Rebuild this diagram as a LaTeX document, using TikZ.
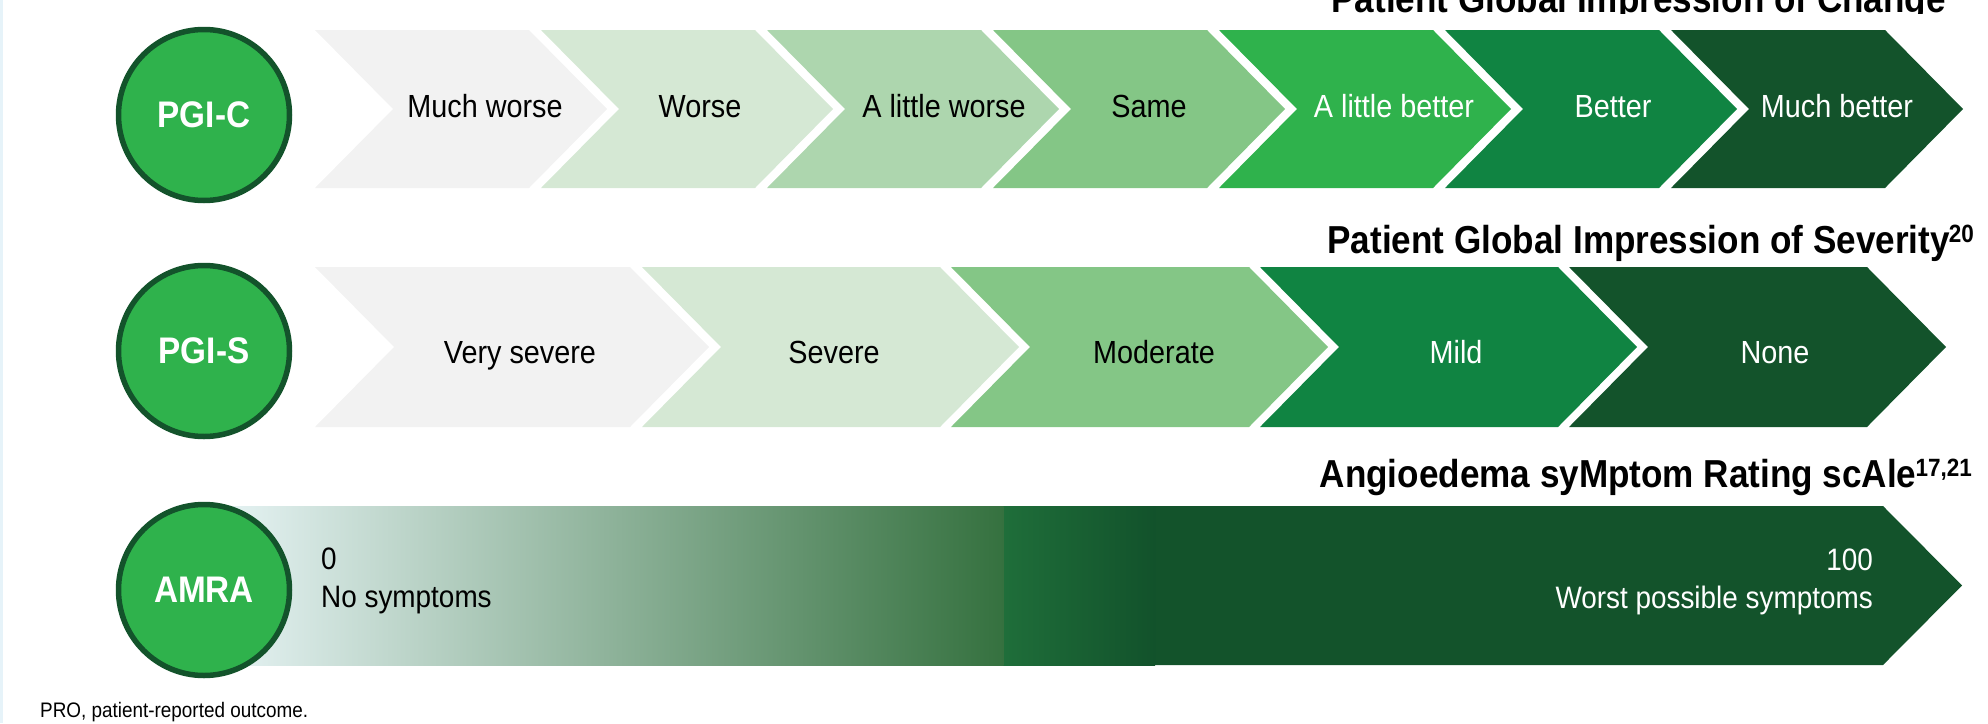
\documentclass[tikz,border=0pt]{standalone}
\usepackage{fontspec}
\setmainfont{Liberation Sans}[FakeStretch=0.9]
\definecolor{c1}{HTML}{F2F2F2}
\definecolor{c2}{HTML}{D5E8D4}
\definecolor{c3}{HTML}{ADD6AE}
\definecolor{c4}{HTML}{84C686}
\definecolor{c5}{HTML}{2FB24C}
\definecolor{c6}{HTML}{108442}
\definecolor{c7}{HTML}{13532B}
\definecolor{edgeblue}{HTML}{E6F3F9}
\definecolor{gA}{HTML}{EAF6F8}
\definecolor{gB}{HTML}{35713F}
\definecolor{gC}{HTML}{1F6E3A}
\definecolor{gD}{HTML}{12522B}
% #1 x0, #2 width, #3 ytop, #4 ybot, #5 depth, #6 colour
\newcommand\pchev[6]{%
  \fill[#6] (#1,#3) -- ({#1+#2},#3) -- ({#1+#2+#5},{(#3+#4)/2}) -- ({#1+#2},#4)
    -- (#1,#4) -- ({#1+#5},{(#3+#4)/2}) -- cycle;}
\tikzset{
  lbl/.style={font=\fontsize{32}{38}\selectfont, anchor=base, inner sep=0pt},
  wlbl/.style={lbl, text=white},
  amra/.style={font=\fontsize{31}{38}\selectfont, inner sep=0pt},
  ttl/.style={font=\bfseries\fontsize{39}{44}\selectfont, anchor=base east, inner sep=0pt},
  badge/.style={circle, draw=c7, line width=5.5pt, fill=c5, minimum size=171pt,
    inner sep=0pt, text=white, font=\bfseries\fontsize{37}{40}\selectfont},
  foot/.style={font=\fontsize{21}{24}\selectfont, anchor=base west, inner sep=0pt},
}
\newcommand\supr[1]{{\fontsize{25}{25}\selectfont\raisebox{11pt}{#1}}}
\begin{document}
\begin{tikzpicture}[x=1pt,y=-1pt]
\useasboundingbox (0,0) rectangle (1988,723);
\fill[edgeblue] (0,0) rectangle (3,723);

% ---------- titles ----------
\begin{scope}
  \clip (0,0) rectangle (1988,13);
  \node[ttl] (t1) at (1946,12) {Patient Global Impression of Change};
\end{scope}
\node[ttl] (t2) at (1974,253) {Patient Global Impression of Severity\kern-1pt\supr{20}};
\node[ttl] (t3) at (1972,487) {Angioedema syMptom Rating scAle\kern-1pt\supr{17,21}};

% ---------- PGI-C row ----------
\foreach \i/\c in {0/c1,1/c2,2/c3,3/c4,4/c5,5/c6,6/c7}
  {\pchev{315+226*\i}{214}{30}{188}{78}{\c}}
\node[lbl]  (a1) at (485,117)  {Much worse};
\node[lbl]  (a2) at (700,117)  {Worse};
\node[lbl]  (a3) at (944,117)  {A little worse};
\node[lbl]  (a4) at (1149,117) {Same};
\node[wlbl] (a5) at (1394,117) {A little better};
\node[wlbl] (a6) at (1613,117) {Better};
\node[wlbl] (a7) at (1837,117) {Much better};
\node[badge] (pgic) at (204,115) {PGI-C};

% ---------- PGI-S row ----------
\pchev{315}{315}{267}{427}{79}{c1}
\pchev{642}{298}{267}{427}{79}{c2}
\pchev{951}{298}{267}{427}{79}{c4}
\pchev{1260}{298}{267}{427}{79}{c6}
\pchev{1569}{298}{267}{427}{79}{c7}
\node[lbl]  (b1) at (520,363)  {Very severe};
\node[lbl]  (b2) at (834,363)  {Severe};
\node[lbl]  (b3) at (1154,363) {Moderate};
\node[wlbl] (b4) at (1456,363) {Mild};
\node[wlbl] (b5) at (1775,363) {None};
\node[badge] (pgis) at (204,351) {PGI-S};

% ---------- AMRA row ----------
\fill[c7] (1150,506) -- (1883,506) -- (1962,585.5) -- (1883,665) -- (1150,665) -- cycle;
\shade[left color=gC, right color=gD] (1003,506) rectangle (1155,665);
\shade[left color=gA, right color=gB] (204,506) rectangle (1003.5,665);
\node[amra, anchor=base west] (z0) at (321,569) {0};
\node[amra, anchor=base west] (z1) at (321,607) {No symptoms};
\node[amra, anchor=base east, text=white] (h0) at (1873,570) {100};
\node[amra, anchor=base east, text=white] (h1) at (1873,608) {Worst possible symptoms};
\node[badge] (amrab) at (204,590) {AMRA};

% ---------- footnote ----------
\node[foot] (fn) at (40,717) {PRO, patient-reported outcome.};
\end{tikzpicture}
\end{document}
